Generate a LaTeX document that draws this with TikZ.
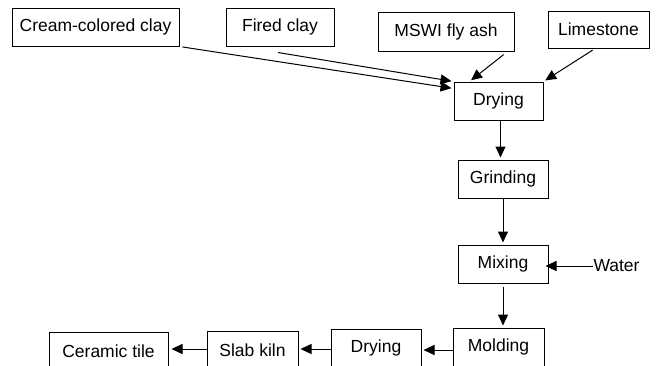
\documentclass[tikz,border=0pt]{standalone}
\usepackage{fontspec}
\setmainfont{Liberation Sans}
\usetikzlibrary{arrows.meta}

\tikzset{every picture/.style={line width=1pt}}
\tikzset{
  box/.style={draw, inner sep=0pt, minimum height=38pt, font=\fontsize{17.5}{20}\selectfont},
  label/.style={inner sep=0pt, font=\fontsize{17.5}{20}\selectfont},
  feed/.style={-{Triangle[length=11pt,width=10pt]}, shorten >=2pt},
}

\begin{document}
\begin{tikzpicture}[x=1pt,y=1pt,yscale=-1,xscale=1]
\clip (0,0) rectangle (657,365); %diagram is 657 wide, 365 high

%Shape: Rectangle - raw materials
\node [box, minimum width=167pt] (cream) at (95.5,27) {Cream-colored clay};
\node [box, minimum width=108pt] (fired) at (280,27) {Fired clay};
\node [box, minimum width=136pt, minimum height=39pt] (mswi) at (446,31.5) {MSWI fly ash};
\node [box, minimum width=101pt, minimum height=37pt] (lime) at (598.5,29.5) {Limestone};

%Shape: Rectangle - process steps
\node [box, minimum width=89pt] (dry1) at (498.5,101) {Drying};
\node [box, minimum width=90pt] (grind) at (503,179) {Grinding};
\node [box, minimum width=90pt] (mix) at (503,264) {Mixing};
\node [box, minimum width=91pt] (mold) at (498.5,347) {Molding};
\node [box, minimum width=90pt] (dry2) at (376,348) {Drying};
\node [box, minimum width=91pt] (slab) at (252.5,350) {Slab kiln};
\node [box, minimum width=119pt] (tile) at (108.5,351) {Ceramic tile};

% Text Node
\node [label, anchor=west] (water) at (593,266) {Water};

%Straight Lines - feeds into drying (yshift is flipped by yscale=-1)
\draw [feed, shorten <=3pt] (cream.south east) -- ([yshift=7pt]dry1.north west);
\draw [feed] ([xshift=-2pt,yshift=6pt]fired.south) -- (dry1.north west);
\draw [feed, shorten <=5pt] (mswi.-18) -- ([xshift=16pt]dry1.north west);
\draw [feed, shorten <=3pt] (lime.-100) -- (dry1.north east);

%Straight Lines - process chain
\draw [feed] ([xshift=2pt]dry1.south) -- ([xshift=2pt]dry1.south |- grind.north);
\draw [feed] (grind) -- (mix);
\draw [feed, shorten <=3pt] (mix.south) -- (mix.south |- mold.north);
\draw [feed, shorten >=0pt] (water.west) -- ([xshift=-3pt]mix.east |- water.west);
\draw [feed] ([yshift=3pt]mold.west) -- ([yshift=3pt]mold.west -| dry2.east);
\draw [feed] ([yshift=1pt]dry2.west) -- ([yshift=1pt]dry2.west -| slab.east);
\draw [feed, shorten >=3pt] ([yshift=-1pt]slab.west) -- ([yshift=-1pt]slab.west -| tile.east);

\end{tikzpicture}
\end{document}
